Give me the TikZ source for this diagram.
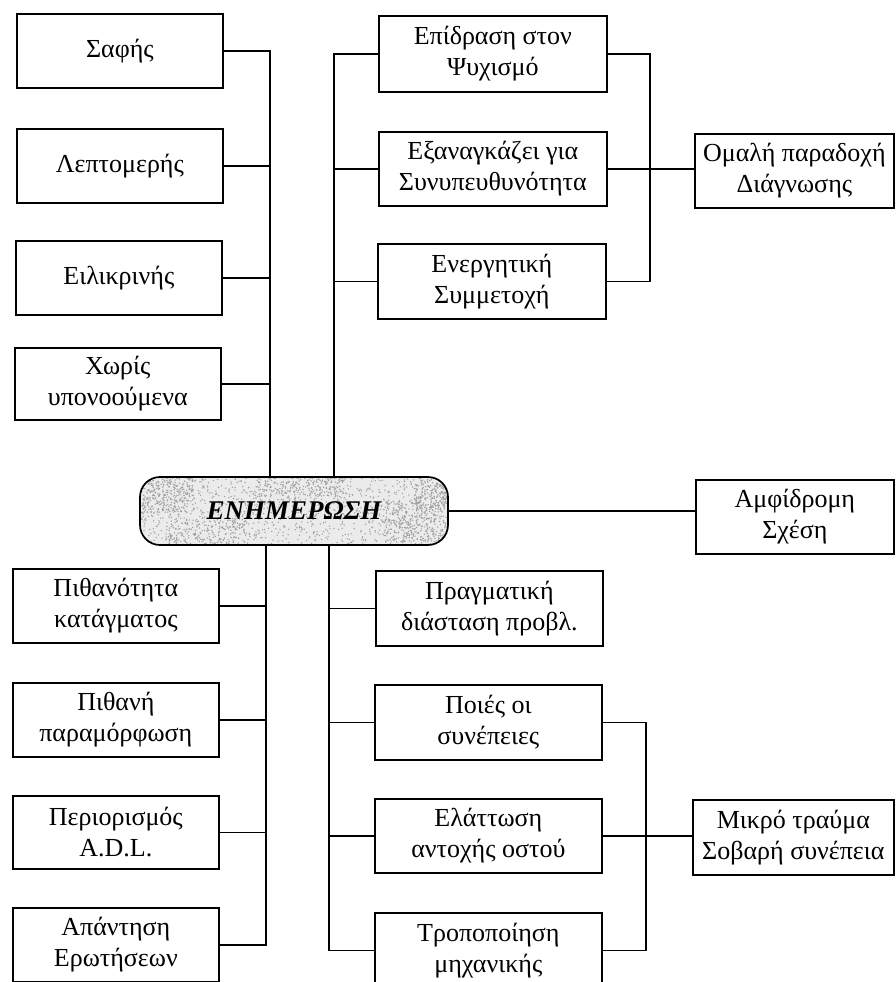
\documentclass[tikz,border=0pt]{standalone}
\usepackage{fontspec}
\setmainfont{Liberation Serif}
\begin{document}
\begin{tikzpicture}[x=1pt,y=-1pt,
  box/.style={draw, line width=1.7pt, inner sep=0pt, anchor=north west,
    align=center, font=\fontsize{26}{31}\selectfont},
  wh/.style 2 args={minimum width=#1pt, minimum height=#2pt},
  link/.style={line width=1.7pt},
  hub/.style={draw, line width=1.7pt, rounded corners=20pt, inner sep=0pt,
    minimum width=308pt, minimum height=68pt,
    font=\fontsize{27}{27}\selectfont\bfseries\itshape},
  speck/.style={fill=gray!75},
]
\useasboundingbox (0,0) rectangle (895,982);
\begin{scope}
\clip (0,0) rectangle (895,982);

% central hub: stippled grey fill under the outline
\begin{scope}
  \clip[rounded corners=20pt] (140,477) rectangle (448,545);
  \fill[gray!16] (140,477) rectangle (448,545);
  \pgfmathsetseed{11}
  \foreach \i in {1,...,1200} {
    \pgfmathsetmacro\rx{140+308*rnd}
    \pgfmathsetmacro\ry{477+68*rnd}
    \fill[speck] (\rx,\ry) circle (0.75);
  }
  % denser patches of the stipple
  \foreach \cx/\cy/\sx/\sy/\nn in {165/495/28/18/260, 300/488/45/12/200,
      415/522/32/20/300, 432/494/18/14/150, 205/532/40/12/150} {
    \foreach \i in {1,...,\nn} {
      \pgfmathsetmacro\rx{\cx+\sx*rand}
      \pgfmathsetmacro\ry{\cy+\sy*rand}
      \fill[speck] (\rx,\ry) circle (0.8);
    }
  }
\end{scope}
\node[hub] (cen) at (294,511) {ΕΝΗΜΕΡΩΣΗ};

% bus positions
\coordinate (lbT) at (270,0);
\coordinate (lbB) at (266,0);
\coordinate (rbT) at (334,0);
\coordinate (rbB) at (329,0);
\coordinate (rbO) at (650,0);
\coordinate (rbM) at (646,0);

% left column, upper
\node[box, wh={206}{74}] (saf) at (16,13) {Σαφής};
\node[box, wh={206}{74}] (lep) at (16,128) {Λεπτομερής};
\node[box, wh={206}{74}] (eil) at (15,240) {Ειλικρινής};
\node[box, wh={206}{72}] (xor) at (14,347) {Χωρίς\\υπονοούμενα};

% left column, lower
\node[box, wh={206}{74}] (pith) at (12,568) {Πιθανότητα\\κατάγματος};
\node[box, wh={206}{74}] (pithn) at (12,682) {Πιθανή\\παραμόρφωση};
\node[box, wh={206}{73}] (peri) at (12,795) {Περιορισμός\\A.D.L.};
\node[box, wh={206}{74}] (apan) at (12,907) {Απάντηση\\Ερωτήσεων};

% right column, upper
\node[box, wh={228}{76}] (ep) at (378,15) {Επίδραση στον\\Ψυχισμό};
\node[box, wh={228}{74}] (ex) at (378,131) {Εξαναγκάζει για\\Συνυπευθυνότητα};
\node[box, wh={228}{75}] (en) at (377,243) {Ενεργητική\\Συμμετοχή};
\node[box, wh={199}{74}] (om) at (694,133) {Ομαλή παραδοχή\\Διάγνωσης};

% two-way relation
\node[box, wh={198}{74}] (amf) at (695,479) {Αμφίδρομη\\Σχέση};

% right column, lower
\node[box, wh={227}{75}] (pr) at (375,570) {Πραγματική\\διάσταση προβλ.};
\node[box, wh={227}{75}] (po) at (374,684) {Ποιές οι\\συνέπειες};
\node[box, wh={227}{74}] (el) at (374,798) {Ελάττωση\\αντοχής οστού};
\node[box, wh={227}{75}] (tr) at (374,912) {Τροποποίηση\\μηχανικής};
\node[box, wh={201}{75}] (mik) at (692,799) {Μικρό τραύμα\\Σοβαρή συνέπεια};

% left buses
\draw[link] (saf.east) -- (saf.east -| lbT) -- (lbT |- cen.north);
\foreach \n in {lep,eil,xor} \draw[link] (\n.east) -- (\n.east -| lbT);
\draw[link] (lbB |- cen.south) -- (apan.east -| lbB) -- (apan.east);
\foreach \n in {pith,pithn,peri} \draw[link] (\n.east) -- (\n.east -| lbB);

% right buses
\draw[link] (ep.west) -- (ep.west -| rbT) -- (rbT |- cen.north);
\foreach \n in {ex,en} \draw[link] (\n.west) -- (\n.west -| rbT);
\draw[link] (rbB |- cen.south) -- (tr.west -| rbB) -- (tr.west);
\foreach \n in {pr,po,el} \draw[link] (\n.west) -- (\n.west -| rbB);

% upper right merge
\draw[link] (ep.east) -- (ep.east -| rbO) -- (en.east -| rbO) -- (en.east);
\draw[link] (ex.east) -- (ex.east -| om.west);

% hub to two-way relation
\draw[link] (cen.east) -- (cen.east -| amf.west);

% lower right merge
\draw[link] (po.east) -- (po.east -| rbM) -- (tr.east -| rbM) -- (tr.east);
\draw[link] (el.east) -- (el.east -| mik.west);
\end{scope}
\end{tikzpicture}
\end{document}
